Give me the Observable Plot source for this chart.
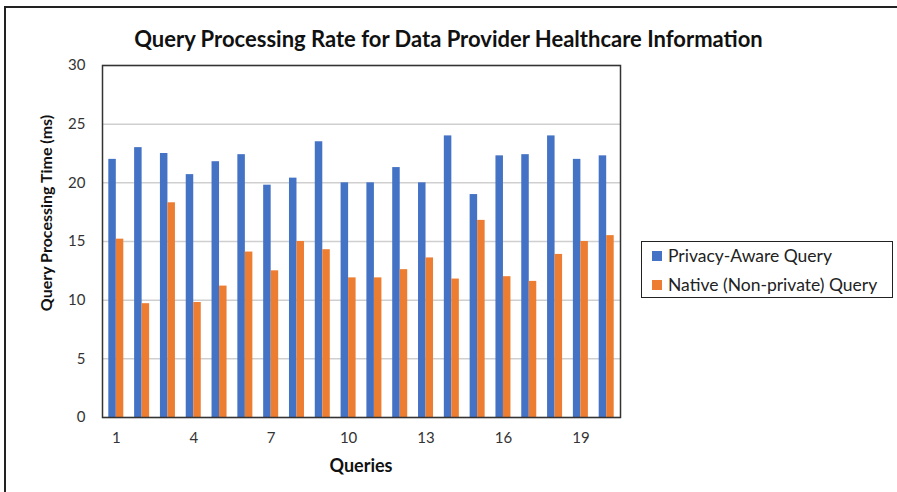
<!DOCTYPE html>
<html>
<head>
<meta charset="utf-8">
<script src="https://cdn.jsdelivr.net/npm/d3@7"></script>
<script src="https://cdn.jsdelivr.net/npm/@observablehq/plot@0.6"></script>
<style>
  html, body { margin: 0; padding: 0; background: #fff; }
  #wrap { position: relative; width: 897px; height: 492px; overflow: hidden; font-family: Lato, "Open Sans", sans-serif; }
  #border { position: absolute; left: 4px; top: 6px; width: 1000px; height: 600px; border-left: 2px solid #222; border-top: 2px solid #222; }
  #title { position: absolute; left: 0; width: 897px; top: 27px; text-align: center; font-weight: bold; font-size: 22px; line-height: 24px; color: #111; }
  #chart { position: absolute; left: 0; top: 55px; }
  #ylabel { position: absolute; left: 45px; top: 213px; transform: translate(-50%, -50%) rotate(-90deg); white-space: nowrap; font-weight: bold; font-size: 16px; color: #111; }
  #xlabel { position: absolute; left: 361px; top: 465px; transform: translate(-50%, -50%); font-weight: bold; font-size: 18px; color: #111; }
  #legend { position: absolute; left: 641px; top: 241px; width: 252px; height: 57px; border: 1.5px solid #222; box-sizing: border-box; font-size: 17.5px; color: #222; }
  .item { position: absolute; left: 10px; display: flex; align-items: center; white-space: nowrap; }
  .sw { width: 10px; height: 10px; margin-right: 6px; }
</style>
</head>
<body>
<div id="wrap">
  <div id="border"></div>
  <div id="title"></div>
  <div id="chart"></div>
  <div id="ylabel"></div>
  <div id="xlabel"></div>
  <div id="legend"></div>
</div>
<script>
const title = "Query Processing Rate for Data Provider Healthcare Information";
const yLabel = "Query Processing Time (ms)";
const xLabel = "Queries";
const queries = [1, 2, 3, 4, 5, 6, 7, 8, 9, 10, 11, 12, 13, 14, 15, 16, 17, 18, 19, 20];
const privacyAware = [22.0, 23.0, 22.5, 20.7, 21.8, 22.4, 19.8, 20.4, 23.5, 20.0, 20.0, 21.3, 20.0, 24.0, 19.0, 22.3, 22.4, 24.0, 22.0, 22.3];
const nativeQuery = [15.2, 9.7, 18.3, 9.8, 11.2, 14.1, 12.5, 15.0, 14.3, 11.9, 11.9, 12.6, 13.6, 11.8, 16.8, 12.0, 11.6, 13.9, 15.0, 15.5];
const seriesNames = ["Privacy-Aware Query", "Native (Non-private) Query"];
const seriesColors = ["#4472C4", "#ED7D31"];
const xTicks = [1, 4, 7, 10, 13, 16, 19];
const yTicks = [0, 5, 10, 15, 20, 25, 30];

const rows = queries.map((q, i) => ({query: q, privacy: privacyAware[i], native: nativeQuery[i]}));

document.getElementById("title").textContent = title;
document.getElementById("ylabel").textContent = yLabel;
document.getElementById("xlabel").textContent = xLabel;

const legend = document.getElementById("legend");
seriesNames.forEach((name, i) => {
  const it = document.createElement("div");
  it.className = "item";
  it.style.top = (i === 0 ? 3 : 32) + "px";
  const sw = document.createElement("div");
  sw.className = "sw";
  sw.style.background = seriesColors[i];
  const tx = document.createElement("span");
  tx.textContent = name;
  it.appendChild(sw);
  it.appendChild(tx);
  legend.appendChild(it);
});

const chart = Plot.plot({
  width: 897,
  height: 437,
  marginTop: 10,
  marginBottom: 75,
  marginLeft: 102,
  marginRight: 277,
  style: {fontFamily: "Lato, 'Open Sans', sans-serif", fontSize: "15px", color: "#333", background: "transparent", overflow: "visible"},
  x: {domain: queries, padding: 0.07, round: false, label: null, ticks: xTicks, tickSize: 0, tickPadding: 15},
  y: {domain: [0, 30], ticks: yTicks, label: null, tickSize: 0, tickPadding: 17},
  marks: [
    Plot.ruleY(yTicks, {stroke: "#cfcfcf", strokeWidth: 1.5}),
    Plot.barY(rows, {x: "query", y: "privacy", fill: seriesColors[0], insetLeft: 4.5, insetRight: 12}),
    Plot.barY(rows, {x: "query", y: "native", fill: seriesColors[1], insetLeft: 12, insetRight: 4.5}),
    Plot.frame({stroke: "#333", strokeWidth: 1.5})
  ]
});
document.getElementById("chart").appendChild(chart);
</script>
</body>
</html>
